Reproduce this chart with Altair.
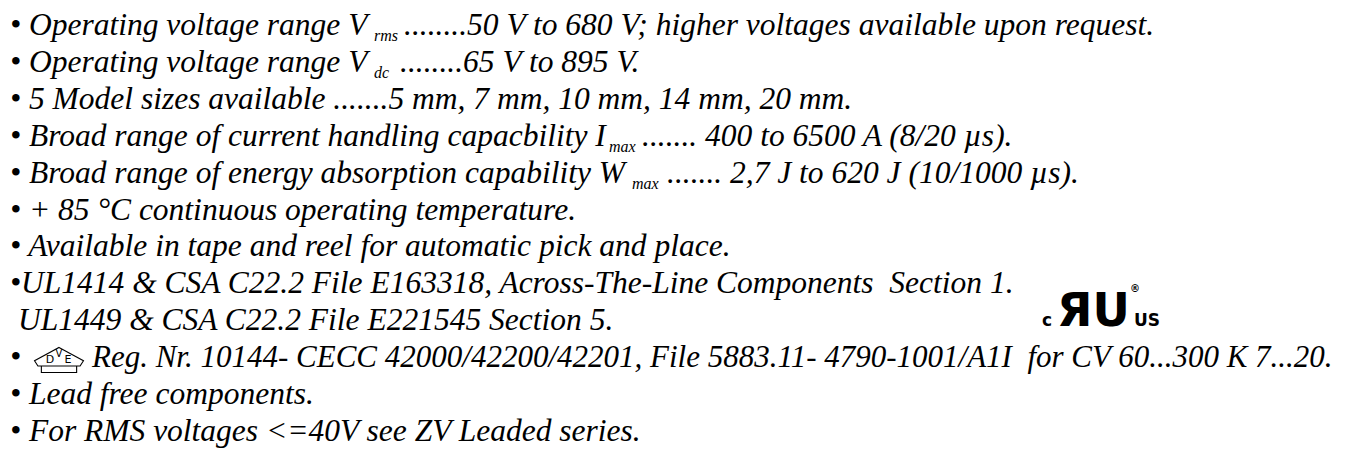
import altair as alt
import pandas as pd

# ---- text content ----
line_heads = [
    "• Operating voltage range V",
    "• Operating voltage range V",
    "• 5 Model sizes available .......5 mm, 7 mm, 10 mm, 14 mm, 20 mm.",
    "• Broad range of current handling capacbility I",
    "• Broad range of energy absorption capability W",
    "• + 85 °C continuous operating temperature.",
    "• Available in tape and reel for automatic pick and place.",
    "•UL1414 & CSA C22.2 File E163318, Across-The-Line Components\u2002Section 1.",
    "UL1449 & CSA C22.2 File E221545 Section 5.",
    "•",
    "• Lead free components.",
    "• For RMS voltages <=40V see ZV Leaded series.",
]
subscripts = ["rms", "dc", "max", "max"]
tails = [
    "........50 V to 680 V; higher voltages available upon request.",
    "........65 V to 895 V.",
    "....... 400 to 6500 A (8/20 µs).",
    "....... 2,7 J to 620 J (10/1000 µs).",
]
dve_text = "Reg. Nr. 10144- CECC 42000/42200/42201, File 5883.11- 4790-1001/A1I\u2002for CV 60...300 K 7...20."
ul_logo = ["c", "ЯU", "US", "®"]
dve_logo = ["D", "V", "E"]
rows = list(range(len(line_heads)))

FONT = "Liberation Serif"
FS = 31.5
W, H = 1333, 437

yscale = alt.Scale(domain=[0, 11], range=[27, 433])

def row_chart(df, x, **kw):
    return alt.Chart(df).mark_text(
        font=FONT, fontStyle="italic", fontSize=kw.pop("fontSize", FS),
        align="left", baseline="alphabetic", color="black", **kw
    ).encode(
        x=alt.value(x),
        y=alt.Y("row:Q", scale=yscale, axis=None),
        text="t:N",
    )

main_df = pd.DataFrame({"row": rows, "t": line_heads})
main_left = row_chart(main_df[main_df.row != 8], 2)
cont = row_chart(main_df[main_df.row == 8], 10)

layers = [main_left, cont]

# subscripts and the text that follows them
sub_rows = [0, 1, 3, 4]
sub_x = [366, 366, 601, 624]
tail_x = [396, 392, 634, 659]
for r, s, t, sx, tx in zip(sub_rows, subscripts, tails, sub_x, tail_x):
    layers.append(row_chart(pd.DataFrame({"row": [r], "t": [s]}), sx, fontSize=16, dy=6))
    layers.append(row_chart(pd.DataFrame({"row": [r], "t": [t]}), tx))

# DVE line text
layers.append(row_chart(pd.DataFrame({"row": [9], "t": [dve_text]}), 84, fontSize=31))

# DVE logo (outline symbol)
dve_path = ("M 0 -0.52 L 1 0.02 L 0.86 0.24 L -0.86 0.24 L -1 0.02 Z "
            "M -0.72 0.24 L -0.72 0.5 L 0.72 0.5 L 0.72 0.24")
logo_df = pd.DataFrame({"row": [9]})
layers.append(
    alt.Chart(logo_df).mark_point(shape=dve_path, size=2400, filled=False,
                                  stroke="black", strokeWidth=1.1, opacity=1)
    .encode(x=alt.value(51), y=alt.Y("row:Q", scale=yscale, axis=None),
            yOffset=alt.value(-7))
)
for ch, dx, dy, fs in zip(dve_logo, [-9, 0, 9], [-4, -10, -4], [11, 10, 11]):
    layers.append(
        alt.Chart(pd.DataFrame({"row": [9], "t": [ch]})).mark_text(
            font="DejaVu Sans", fontSize=fs, align="center", baseline="alphabetic",
            color="black", dx=dx, dy=dy)
        .encode(x=alt.value(51), y=alt.Y("row:Q", scale=yscale, axis=None), text="t:N")
    )

# cULus logo, right after "Section 1."
for t, x, fs, dy in zip(ul_logo, [1034, 1049, 1126, 1122], [17, 46, 17, 10], [14, 14, 14, -20]):
    layers.append(
        alt.Chart(pd.DataFrame({"row": [7.5], "t": [t]})).mark_text(
            font="DejaVu Sans", fontWeight="bold", fontSize=fs, align="left",
            baseline="alphabetic", color="black", dy=dy)
        .encode(x=alt.value(x), y=alt.Y("row:Q", scale=yscale, axis=None), text="t:N")
    )

chart = alt.layer(*layers).properties(
    width=W, height=H, padding=0, background="white"
).configure_view(stroke="transparent", strokeWidth=0)

chart.save("out.html", embed_options={"renderer": "svg", "actions": False})
